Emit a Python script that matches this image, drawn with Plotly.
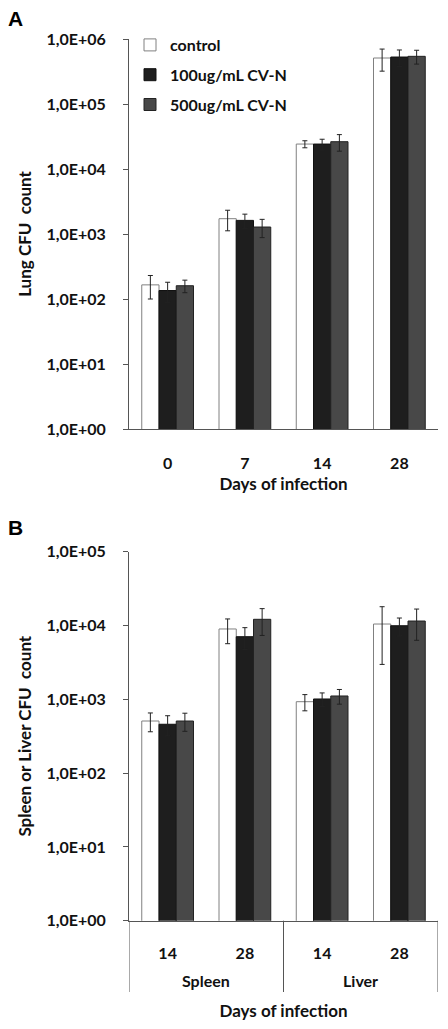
import plotly.graph_objects as go

# ---- Data ----
series_names = ["control", "100ug/mL CV-N", "500ug/mL CV-N"]

lung_days = ["0", "7", "14", "28"]
lung_control = [165, 1720, 24200, 510000]
lung_control_err = [65, 600, 3000, 190000]
lung_100 = [135, 1620, 24200, 528000]
lung_100_err = [46, 400, 4500, 150000]
lung_500 = [160, 1280, 26300, 541000]
lung_500_err = [35, 400, 7500, 130000]

organ_outer = ["Spleen", "Spleen", "Liver", "Liver"]
organ_days = ["14", "28", "14", "28"]
organ_control = [508, 8970, 928, 10470]
organ_control_err = [145, 3300, 230, 7500]
organ_100 = [459, 7050, 1010, 9930]
organ_100_err = [140, 2300, 210, 2700]
organ_500 = [508, 12130, 1109, 11500]
organ_500_err = [140, 4800, 250, 5200]

fill_colors = ["#ffffff", "#1e1e1e", "#484848"]
line_colors = ["#808080", "#111111", "#222222"]

yA_ticks = [1, 10, 100, 1000, 10000, 100000, 1000000]
yA_labels = ["1,0E+00", "1,0E+01", "1,0E+02", "1,0E+03", "1,0E+04", "1,0E+05", "1,0E+06"]
yB_ticks = yA_ticks[:6]
yB_labels = yA_labels[:6]

FONT = "Lato"
fig = go.Figure()

lung_vals = [lung_control, lung_100, lung_500]
lung_errs = [lung_control_err, lung_100_err, lung_500_err]
organ_vals = [organ_control, organ_100, organ_500]
organ_errs = [organ_control_err, organ_100_err, organ_500_err]

organ_idx = list(range(len(organ_days)))

for i in range(3):
    fig.add_trace(go.Bar(
        x=lung_days, y=lung_vals[i], name=series_names[i], legendgroup="g%d" % i,
        marker=dict(color=fill_colors[i], line=dict(color=line_colors[i], width=1)),
        error_y=dict(type="data", array=lung_errs[i], color="#222222", thickness=1, width=2.5),
        xaxis="x", yaxis="y", showlegend=True,
    ))
for i in range(3):
    fig.add_trace(go.Bar(
        x=organ_idx, y=organ_vals[i], name=series_names[i], legendgroup="g%d" % i,
        marker=dict(color=fill_colors[i], line=dict(color=line_colors[i], width=1)),
        error_y=dict(type="data", array=organ_errs[i], color="#222222", thickness=1, width=2.5),
        xaxis="x2", yaxis="y2", showlegend=False,
    ))

W, H = 448, 1029
def px_x(v):
    return v / W
def px_y(v):
    return 1 - v / H

tickfont = dict(family=FONT, size=16, color="#111111", weight="bold")
titlefont = dict(family=FONT, size=17, color="#111111", weight="bold")

# group (organ) boundaries and centres, derived from the category lists
groups = []
for j, g in enumerate(organ_outer):
    if not groups or groups[-1][0] != g:
        groups.append([g, j, j])
    else:
        groups[-1][2] = j
boundaries = [groups[0][1] - 0.5] + [grp[2] + 0.5 for grp in groups]

AXIS_B = px_y(920.7)
DIV_BOTTOM = px_y(992)
shapes = [dict(type="line", xref="x2", yref="paper", x0=b, x1=b, y0=AXIS_B, y1=DIV_BOTTOM,
               line=dict(color="#555555", width=1)) for b in boundaries]

annotations = [
    dict(text="<b>A</b>", x=px_x(6), y=px_y(5), xref="paper", yref="paper",
         xanchor="left", yanchor="top", showarrow=False,
         font=dict(family="Liberation Sans", size=21, color="#000000")),
    dict(text="<b>B</b>", x=px_x(6), y=px_y(514), xref="paper", yref="paper",
         xanchor="left", yanchor="top", showarrow=False,
         font=dict(family="Liberation Sans", size=21, color="#000000")),
]
for g, a, b in groups:
    annotations.append(dict(text=g, x=(a + b) / 2, y=px_y(980), xref="x2", yref="paper",
                            xanchor="center", yanchor="middle", showarrow=False,
                            font=tickfont))

fig.update_layout(
    width=W, height=H,
    margin=dict(l=0, r=0, t=0, b=0, autoexpand=False),
    paper_bgcolor="white", plot_bgcolor="white",
    barmode="group", bargap=0.33, bargroupgap=0,
    font=dict(family=FONT, color="#111111"),
    xaxis=dict(domain=[px_x(129), px_x(438)], anchor="y", type="category",
               showline=True, linecolor="#555555", linewidth=1, ticks="",
               tickfont=tickfont, ticklabelstandoff=20, automargin=False,
               title=dict(text="Days of infection", font=titlefont, standoff=6)),
    yaxis=dict(domain=[px_y(429), px_y(39)], anchor="x", type="log", range=[0, 6],
               tickvals=yA_ticks, ticktext=yA_labels, automargin=False,
               showline=True, linecolor="#555555", linewidth=1, ticks="outside",
               ticklen=5, tickcolor="#555555", showgrid=False, zeroline=False,
               tickfont=tickfont, ticklabelstandoff=14,
               title=dict(text="Lung CFU\u00a0\u00a0count", font=titlefont, standoff=10)),
    xaxis2=dict(domain=[px_x(129), px_x(438)], anchor="y2", type="linear",
                range=[boundaries[0], boundaries[-1]],
                tickvals=organ_idx, ticktext=organ_days,
                showline=True, linecolor="#555555", linewidth=1, ticks="",
                showgrid=False, zeroline=False,
                tickfont=tickfont, ticklabelstandoff=18, automargin=False,
                title=dict(text="Days of infection", font=titlefont, standoff=44)),
    yaxis2=dict(domain=[AXIS_B, px_y(551.7)], anchor="x2", type="log", range=[0, 5],
                tickvals=yB_ticks, ticktext=yB_labels, automargin=False,
                showline=True, linecolor="#555555", linewidth=1, ticks="outside",
                ticklen=5, tickcolor="#555555", showgrid=False, zeroline=False,
                tickfont=tickfont, ticklabelstandoff=14,
                title=dict(text="Spleen or Liver CFU\u00a0\u00a0count", font=titlefont, standoff=10)),
    legend=dict(x=px_x(130), y=px_y(28), xanchor="left", yanchor="top",
                bgcolor="rgba(0,0,0,0)",
                font=dict(family=FONT, size=16, color="#111111", weight="bold"),
                tracegroupgap=6, itemwidth=30, traceorder="grouped"),
    shapes=shapes,
    annotations=annotations,
)

fig.write_html("out.html", config={"displayModeBar": False},
               post_script="document.body.style.margin='0';document.body.style.padding='0';")
